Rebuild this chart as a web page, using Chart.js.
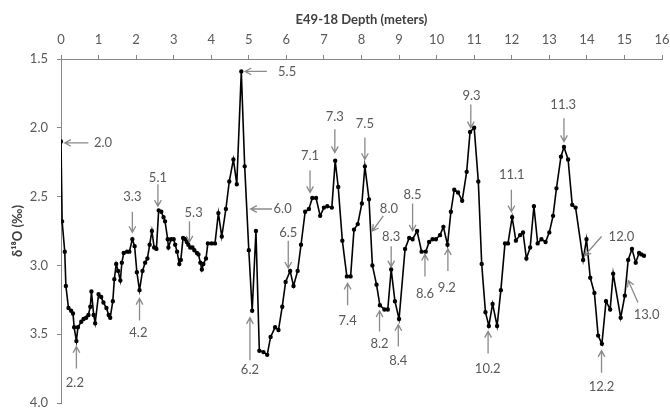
<!DOCTYPE html>
<html>
<head>
<meta charset="utf-8">
<script src="https://cdn.jsdelivr.net/npm/chart.js@4/dist/chart.umd.min.js"></script>
<style>
  html, body { margin:0; padding:0; background:#fff; }
  #wrap { width:670px; height:408px; }
</style>
</head>
<body>
<div id="wrap"><canvas id="chart"></canvas></div>
<script>
// depth (m) and d18O (permil)
const depth = [
  0.00,0.03,0.10,0.13,0.20,0.27,0.32,0.35,0.41,0.45,
  0.54,0.60,0.67,0.73,0.78,0.81,0.87,0.91,1.00,1.07,
  1.13,1.21,1.27,1.31,1.38,1.42,1.47,1.52,1.58,1.62,
  1.67,1.76,1.82,1.90,1.96,2.02,2.09,2.17,2.24,2.30,
  2.36,2.42,2.48,2.54,2.60,2.67,2.73,2.77,2.84,2.86,
  2.93,3.00,3.04,3.09,3.15,3.19,3.25,3.31,3.35,3.39,
  3.44,3.50,3.55,3.62,3.66,3.71,3.75,3.79,3.86,3.91,
  4.01,4.10,4.19,4.28,4.39,4.48,4.59,4.68,4.80,4.89,
  5.00,5.09,5.19,5.28,5.39,5.49,5.58,5.70,5.79,5.89,
  5.98,6.10,6.19,6.30,6.39,6.50,6.60,6.69,6.79,6.90,
  7.00,7.09,7.21,7.30,7.38,7.49,7.61,7.71,7.80,7.90,
  8.01,8.09,8.20,8.29,8.40,8.49,8.61,8.70,8.79,8.89,
  9.00,9.16,9.27,9.36,9.48,9.60,9.71,9.80,9.89,9.98,
  10.09,10.18,10.29,10.38,10.47,10.57,10.68,10.80,10.89,11.00,
  11.11,11.20,11.30,11.39,11.49,11.61,11.71,11.82,11.90,12.01,
  12.11,12.22,12.30,12.39,12.49,12.59,12.69,12.79,12.90,13.00,
  13.10,13.19,13.31,13.39,13.50,13.61,13.70,13.90,13.99,14.09,
  14.20,14.30,14.40,14.51,14.62,14.70,14.90,15.01,15.10,15.20,
  15.30,15.39,15.45,15.52
];
const d18O = [
  2.10,2.68,2.90,3.15,3.31,3.33,3.35,3.45,3.55,3.45,
  3.41,3.39,3.38,3.36,3.30,3.19,3.36,3.42,3.21,3.23,
  3.27,3.31,3.36,3.38,3.26,3.10,2.99,3.04,3.11,2.98,
  2.91,2.90,2.90,2.81,2.86,3.05,3.18,3.04,2.98,2.95,
  2.85,2.75,2.87,2.88,2.60,2.61,2.65,2.68,2.81,2.87,
  2.81,2.81,2.85,2.90,2.99,2.96,2.80,2.81,2.83,2.85,
  2.87,2.87,2.89,2.91,2.92,2.98,3.03,2.99,2.95,2.84,
  2.84,2.84,2.62,2.79,2.59,2.39,2.23,2.41,1.59,2.28,
  2.89,3.33,2.75,3.62,3.63,3.65,3.52,3.45,3.47,3.30,
  3.12,3.04,3.15,3.04,2.85,2.61,2.59,2.51,2.51,2.64,
  2.58,2.57,2.58,2.24,2.43,2.82,3.08,3.08,2.74,2.70,
  2.55,2.28,2.52,3.00,3.14,3.29,3.32,3.32,3.03,3.26,
  3.39,2.88,2.80,2.81,2.75,2.90,2.90,2.83,2.81,2.81,
  2.78,2.72,2.85,2.61,2.45,2.47,2.53,2.32,2.03,2.00,
  2.39,2.99,3.34,3.44,3.28,3.44,3.18,2.84,2.84,2.65,
  2.82,2.78,2.76,2.95,2.87,2.57,2.84,2.81,2.83,2.76,
  2.64,2.44,2.21,2.14,2.23,2.56,2.58,2.96,2.81,3.09,
  3.20,3.51,3.57,3.26,3.32,3.06,3.38,3.22,2.96,2.88,
  2.98,2.91,2.92,2.93
];

// arrow notes: label, label position, arrow tail -> head (data units)
const noteLabel = ['2.0','2.2','3.3','5.1','4.2','5.3','5.5','6.0','6.2','6.5','7.1','7.3','7.5','7.4',
                   '8.0','8.3','8.2','8.4','8.5','8.6','9.2','9.3','10.2','11.1','11.3','12.0','12.2','13.0'];
const noteX  = [1.12,0.37,1.90,2.58,2.06,3.53,6.02,5.90,5.03,6.05,6.63,7.29,8.09,7.63,
                8.73,8.79,8.48,8.98,9.36,9.69,10.27,10.93,11.36,12.00,13.37,14.92,14.39,15.59];
const noteY  = [2.11,3.85,2.50,2.36,3.49,2.62,1.59,2.59,3.76,2.76,2.20,1.92,1.97,3.40,
                2.59,2.79,3.57,3.69,2.49,3.21,3.16,1.77,3.75,2.34,1.83,2.79,3.88,3.36];
const tailX  = [0.73,0.41,1.90,2.58,2.09,3.42,5.48,5.62,5.03,6.05,6.63,7.29,8.09,7.63,
                8.58,8.79,8.48,8.98,9.36,9.69,10.30,10.91,11.37,11.99,13.39,14.39,14.39,15.36];
const tailY  = [2.11,3.75,2.61,2.41,3.40,2.68,1.59,2.59,3.69,2.82,2.31,2.01,2.07,3.29,
                2.64,2.86,3.48,3.59,2.55,3.08,3.04,1.83,3.64,2.45,1.93,2.79,3.78,3.27];
const headX  = [0.10,0.41,1.90,2.58,2.09,3.42,4.90,5.05,5.03,6.05,6.63,7.29,8.09,7.63,
                8.29,8.79,8.48,8.98,9.36,9.69,10.30,10.91,11.37,11.99,13.39,13.94,14.39,15.10];
const headY  = [2.11,3.59,2.76,2.57,3.24,2.83,1.59,2.59,3.38,3.02,2.47,2.18,2.23,3.13,
                2.75,3.01,3.33,3.43,2.75,2.92,2.88,2.00,3.48,2.61,2.10,2.93,3.62,3.11];

const FONT = 'Lato, "Liberation Sans", sans-serif';

const notes = {
  id: 'notes',
  afterDatasetsDraw(chart){
    const {ctx, scales:{x, y}} = chart;
    ctx.save();
    ctx.strokeStyle = '#8a8a8a';
    ctx.lineWidth = 1.3;
    ctx.fillStyle = '#595959';
    ctx.font = '13px ' + FONT;
    ctx.textAlign = 'center';
    ctx.textBaseline = 'middle';
    noteLabel.forEach((t, i) => {
      const x1 = x.getPixelForValue(tailX[i]), y1 = y.getPixelForValue(tailY[i]);
      const x2 = x.getPixelForValue(headX[i]), y2 = y.getPixelForValue(headY[i]);
      const a = Math.atan2(y2 - y1, x2 - x1), h = 7, w = 0.5;
      ctx.beginPath();
      ctx.moveTo(x1, y1); ctx.lineTo(x2, y2);
      ctx.moveTo(x2 - h*Math.cos(a - w), y2 - h*Math.sin(a - w));
      ctx.lineTo(x2, y2);
      ctx.lineTo(x2 - h*Math.cos(a + w), y2 - h*Math.sin(a + w));
      ctx.stroke();
      ctx.fillText(t, x.getPixelForValue(noteX[i]), y.getPixelForValue(noteY[i]));
    });
    ctx.restore();
  }
};

new Chart(document.getElementById('chart'), {
  type: 'line',
  data: {
    datasets: [{
      data: depth.map((d, i) => ({x: d, y: d18O[i]})),
      borderColor: '#000', backgroundColor: '#000',
      borderWidth: 1.6, pointRadius: 1.4, pointHoverRadius: 1.4,
      tension: 0
    }]
  },
  options: {
    responsive: true, maintainAspectRatio: false, animation: false,
    layout: { padding: { top: 0, left: 0, right: 8, bottom: 5 } },
    plugins: { legend: { display: false }, tooltip: { enabled: false } },
    scales: {
      x: {
        type: 'linear', position: 'top', min: 0, max: 16,
        ticks: { stepSize: 1, color: '#595959', font: { family: FONT, size: 13 }, padding: 7, maxRotation: 0 },
        grid: { drawOnChartArea: false, tickLength: 4, color: '#868686' },
        border: { color: '#868686' },
        title: { display: true, text: 'E49-18 Depth (meters)', color: '#404040',
                 font: { family: FONT, size: 13, weight: 'bold' }, padding: { top: 12, bottom: 0 } },
        afterFit: s => { s.height = 59; s.paddingLeft = 0; s.paddingRight = 0; }
      },
      y: {
        type: 'linear', reverse: true, min: 1.5, max: 4.0,
        ticks: { stepSize: 0.5, callback: v => v.toFixed(1), color: '#595959',
                 font: { family: FONT, size: 13 }, padding: 9 },
        grid: { drawOnChartArea: false, tickLength: 4, color: '#868686' },
        border: { color: '#868686' },
        title: { display: true, text: 'δ¹⁸O (‰)', color: '#404040',
                 font: { family: FONT, size: 13, weight: 'bold' }, padding: { top: 10, bottom: 0 } },
        afterFit: s => { s.width = 61; s.paddingTop = 0; s.paddingBottom = 0; }
      }
    }
  },
  plugins: [notes]
});
</script>
</body>
</html>
